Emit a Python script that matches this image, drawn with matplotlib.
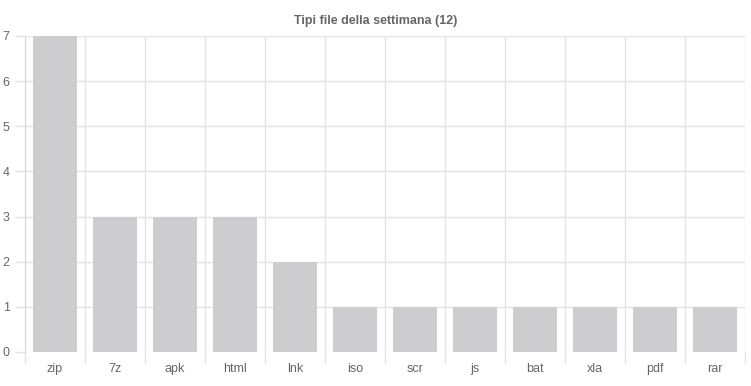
import matplotlib
matplotlib.use('Agg')
import matplotlib.pyplot as plt
import numpy as np

# Dati
categorie = ['zip', '7z', 'apk', 'html', 'lnk', 'iso', 'scr', 'js', 'bat', 'xla', 'pdf', 'rar']
conteggi = [7, 3, 3, 3, 2, 1, 1, 1, 1, 1, 1, 1]
titolo = 'Tipi file della settimana (12)'

grigio_griglia = '#e3e3e3'
grigio_testo = '#666666'

plt.rcParams['font.family'] = ['Liberation Sans', 'DejaVu Sans']

fig = plt.figure(figsize=(7.51, 3.86), dpi=100)
ax = fig.add_axes([25 / 751, 34 / 386, 720 / 751, 316 / 386])

x = np.arange(len(categorie))
ax.bar(x, conteggi, width=0.72, color='#cdcdcf', zorder=2)

ax.set_xlim(-0.5, len(categorie) - 0.5)
ax.set_ylim(0, 7)

ax.set_xticks(x)
ax.set_xticklabels(categorie)
ax.set_xticks(np.arange(-0.5, len(categorie)), minor=True)
ax.set_yticks(range(0, 8))

ax.tick_params(axis='x', which='major', length=0, pad=8, labelsize=9, labelcolor=grigio_testo)
ax.tick_params(axis='x', which='minor', length=8, color=grigio_griglia, width=1)
ax.tick_params(axis='y', length=7, color=grigio_griglia, width=1, pad=4, labelsize=9, labelcolor=grigio_testo)

ax.grid(axis='x', which='minor', color=grigio_griglia, linewidth=1, zorder=0)
ax.grid(axis='y', which='major', color=grigio_griglia, linewidth=1, zorder=0)
ax.set_axisbelow(True)

for lato in ['top', 'right', 'bottom']:
    ax.spines[lato].set_visible(False)
ax.spines['left'].set_color('#d6d6d6')

fig.text(0.5, 1 - 21 / 386, titolo, ha='center', va='center', fontsize=9,
         fontweight='bold', color=grigio_testo)

fig.savefig('out.png', dpi=100)
